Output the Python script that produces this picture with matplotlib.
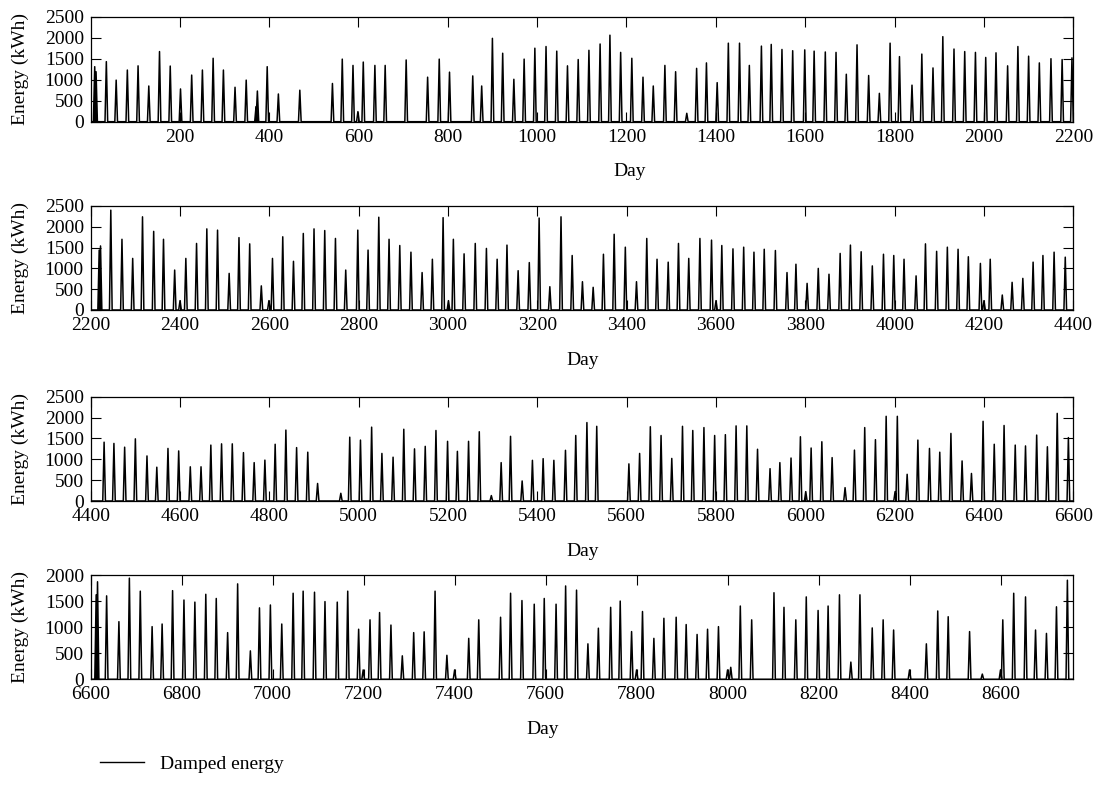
import matplotlib
matplotlib.use("Agg")
import matplotlib.pyplot as plt
from matplotlib.lines import Line2D

plt.rcParams['font.family'] = ['Liberation Serif', 'DejaVu Serif']
plt.rcParams['font.size'] = 14

# Peak day and peak energy (kWh) of each spike
days = [
    10, 13, 36, 58, 83, 107, 131, 155, 179, 202, 227, 251, 275, 298, 324, 349,
    371, 374, 396, 421, 469, 542, 564, 588, 599, 611, 637, 660, 707,
    755, 781, 804, 856, 876, 900, 923, 948, 971, 995, 1020, 1044, 1068, 1092,
    1116, 1141, 1163, 1187, 1212, 1237, 1260, 1286, 1310, 1335, 1357, 1379,
    1403, 1428, 1453, 1475,
    1502, 1524, 1548, 1572, 1599, 1620, 1645, 1669, 1692, 1716, 1742, 1766,
    1790, 1811, 1839, 1861, 1886, 1908, 1933, 1957, 1981, 2004, 2027, 2053,
    2076, 2100, 2124, 2150, 2175, 2197,
    2219, 2222, 2245, 2270, 2294, 2316, 2341, 2363, 2388, 2400, 2413, 2437,
    2460, 2484, 2510, 2532, 2556, 2582, 2599, 2607, 2630, 2654, 2676, 2700,
    2724, 2748, 2771, 2798, 2821, 2845, 2868, 2892, 2917,
    2942, 2965, 2989, 3001, 3012, 3036, 3061, 3086, 3110, 3132, 3157, 3182,
    3204, 3228, 3253, 3278, 3301, 3325, 3348, 3372, 3397, 3422, 3445, 3468,
    3493, 3516, 3539, 3564, 3590, 3600, 3613, 3638, 3662, 3685,
    3708, 3733, 3759, 3779, 3804, 3829, 3853, 3878, 3901, 3925, 3950, 3975,
    3998, 4021, 4048, 4069, 4094, 4118, 4142, 4165, 4192, 4200, 4214, 4241,
    4263, 4287, 4310, 4332, 4357, 4382,
    4430, 4452, 4476, 4500, 4526, 4548, 4573, 4597, 4623, 4647, 4669, 4693,
    4717, 4742, 4766, 4790, 4813, 4837, 4861, 4886, 4908, 4960, 4980, 5004,
    5029, 5052, 5077, 5101, 5125,
    5149, 5173, 5199, 5221, 5246, 5270, 5297, 5319, 5340, 5366, 5389, 5413,
    5437, 5463, 5486, 5511, 5533, 5605, 5629, 5653, 5677, 5701, 5725, 5748,
    5773, 5797, 5821, 5845, 5869, 5893,
    5921, 5943, 5968, 5989, 6001, 6013, 6037, 6060, 6089, 6110, 6133, 6157,
    6181, 6201, 6206, 6228, 6252, 6278, 6301, 6326, 6351, 6372, 6398, 6423,
    6445, 6470, 6493, 6518, 6542, 6564, 6589,
    6612, 6615, 6635, 6662, 6685, 6709, 6735, 6757, 6780, 6805, 6829, 6853,
    6876, 6901, 6923, 6951, 6971, 6995, 7020, 7045, 7067, 7092, 7115, 7142,
    7165, 7189, 7199, 7214, 7235, 7260, 7285, 7310,
    7333, 7357, 7383, 7400, 7431, 7453, 7501, 7523, 7548, 7575, 7597, 7623,
    7644, 7668, 7693, 7716, 7743, 7764, 7789, 7800, 7813, 7838, 7860, 7887,
    7909, 7933, 7956, 7980, 8000, 8007, 8028, 8053,
    8102, 8124, 8150, 8173, 8199, 8221, 8246, 8271, 8291, 8318, 8342, 8365,
    8400, 8437, 8462, 8485, 8532, 8560, 8600, 8605, 8629, 8655, 8677, 8701,
    8723, 8747,
]
energy = [
    1310, 1190, 1430, 990, 1230, 1330, 850, 1670, 1325, 780, 1110, 1230, 1510,
    1230, 820, 990, 360, 730, 1310, 660, 750, 910, 1490, 1340, 240, 1420, 1340,
    1340, 1470,
    1060, 1490, 1180, 1090, 850, 1985, 1630, 1010, 1490, 1750, 1790, 1680,
    1330, 1480, 1700, 1850, 2060, 1650, 1510, 1060, 850, 1340, 1190, 200,
    1270, 1400, 930, 1870, 1870, 1340,
    1800, 1840, 1720, 1690, 1710, 1680, 1660, 1650, 1130, 1830, 1100, 675,
    1870, 1550, 870, 1610, 1280, 2025, 1730, 1670, 1650, 1530, 1640, 1330,
    1790, 1560, 1400, 1500, 1480, 1520,
    1440, 1540, 2400, 1700, 1240, 2240, 1890, 1700, 960, 225, 1240, 1600,
    1950, 1920, 880, 1740, 1590, 580, 225, 1240, 1760, 1170, 1840, 1950,
    1910, 1720, 960, 1920, 1440, 2230, 1700, 1550, 1390,
    900, 1220, 2220, 225, 1700, 1350, 1600, 1480, 1220, 1560, 945, 1140,
    2210, 560, 2240, 1310, 680, 545, 1340, 1820, 1510, 680, 1720, 1220,
    1150, 1600, 1240, 1720, 1680, 225, 1550, 1470, 1510, 1390,
    1460, 1430, 900, 1100, 640, 1000, 860, 1360, 1560, 1400, 1060, 1340,
    1310, 1220, 820, 1590, 1410, 1510, 1460, 1280, 1120, 225, 1220, 360,
    665, 760, 1150, 1310, 1390, 1270,
    1410, 1380, 1290, 1490, 1080, 810, 1260, 1200, 820, 820, 1340, 1370,
    1370, 1160, 920, 980, 1360, 1700, 1280, 1170, 420, 185, 1530, 1460,
    1770, 1140, 1050, 1720, 1250,
    1310, 1690, 1430, 1190, 1430, 1660, 130, 920, 1550, 480, 975, 1015,
    975, 1215, 1570, 1880, 1790, 890, 1140, 1780, 1570, 1020, 1790, 1690,
    1760, 1570, 1590, 1800, 1800, 1240,
    775, 920, 1030, 1540, 225, 1270, 1420, 1040, 320, 1220, 1760, 1470,
    2030, 225, 2030, 640, 1460, 1260, 1170, 1620, 960, 660, 1910, 1360,
    1810, 1340, 1320, 1580, 1300, 2100, 1520,
    1620, 1870, 1600, 1105, 1940, 1690, 1010, 1060, 1700, 1520, 1480, 1630,
    1550, 895, 1830, 545, 1370, 1425, 1060, 1650, 1690, 1670, 1490, 1480,
    1690, 960, 180, 1140, 1280, 1040, 450, 895,
    910, 1690, 460, 180, 785, 1140, 1190, 1650, 1510, 1440, 1550, 1440,
    1790, 1710, 680, 980, 1380, 1500, 915, 180, 1300, 785, 1170, 1190,
    1050, 860, 960, 1010, 180, 230, 1405, 1140,
    1660, 1380, 1140, 1580, 1320, 1405, 1620, 330, 1620, 985, 1140, 945,
    180, 680, 1310, 1200, 915, 100, 180, 1140, 1650, 1580, 945, 880,
    1390, 1900,
]

# Panels: x range, x ticks, y top
x_ranges = [(1, 2200), (2200, 4400), (4400, 6600), (6600, 8760)]
x_ticks = [range(200, 2201, 200), range(2200, 4401, 200),
           range(4400, 6601, 200), range(6600, 8601, 200)]
y_tops = [2500, 2500, 2500, 2000]

# each spike drawn as a narrow peak over the day
half = 3
xs, ys = [0], [0]
for d, e in sorted(zip(days, energy)):
    xs += [d - half, d, d + half]
    ys += [0, e, 0]
xs.append(8760)
ys.append(0)

fig = plt.figure(figsize=(11.01, 7.88), dpi=100)
W, H = 1101, 788
left, right = 90.7, 1073.3
boxes = [(16.7, 121.7), (206, 310), (396.7, 501), (575, 679.3)]
day_x = [630, 583, 583, 543]

for i, (top, bot) in enumerate(boxes):
    ax = fig.add_axes([left / W, 1 - bot / H, (right - left) / W, (bot - top) / H])
    ax.plot(xs, ys, color="black", lw=1.1)
    ax.set_xlim(*x_ranges[i])
    ax.set_ylim(0, y_tops[i])
    ax.set_xticks(list(x_ticks[i]))
    ax.set_yticks(range(0, y_tops[i] + 1, 500))
    ax.tick_params(direction="in", length=7, top=True, right=True,
                   labelsize=14, pad=5)
    for s in ax.spines.values():
        s.set_linewidth(0.9)
    fig.text(day_x[i] / W, 1 - (bot + 50) / H, "Day", ha="center",
             va="center", fontsize=14)
    fig.text(20 / W, 1 - (top + bot) / 2 / H, "Energy (kWh)", rotation=90,
             ha="center", va="center", fontsize=14)

handle = Line2D([], [], color="black", lw=1.0)
fig.legend([handle], ["Damped energy"], loc="center left",
           bbox_to_anchor=(82 / W, 1 - 764 / H), frameon=False,
           fontsize=14, handlelength=2.3)

fig.savefig("out.png", dpi=100)
